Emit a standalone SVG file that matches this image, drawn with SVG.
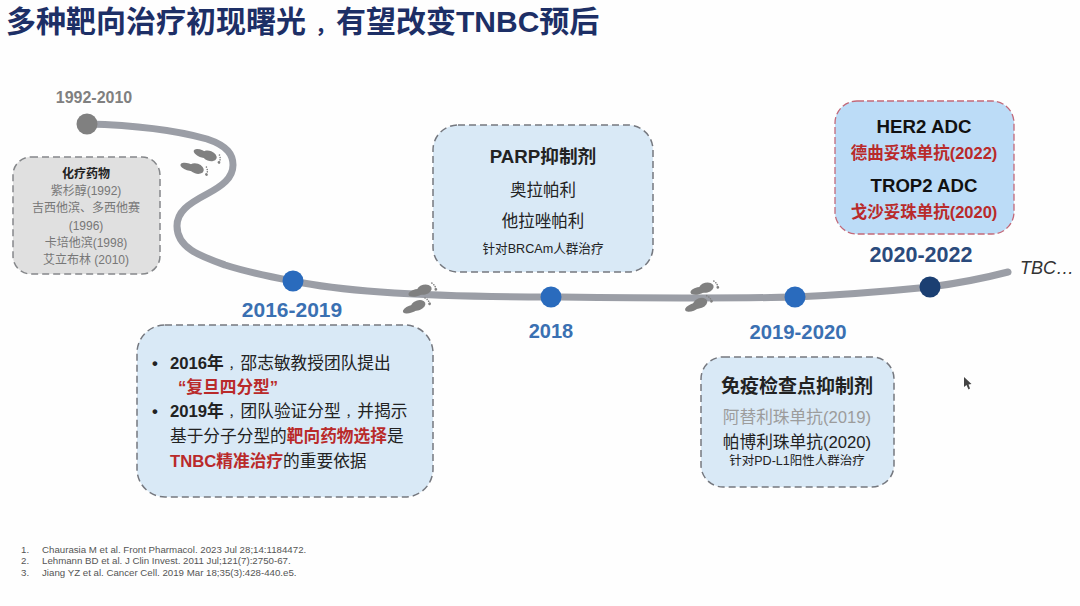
<svg xmlns="http://www.w3.org/2000/svg" width="1080" height="606" viewBox="0 0 1080 606">
<style>
text{font-family:"Liberation Sans","Noto Sans CJK SC",sans-serif;text-anchor:middle;fill:#222}
.b{font-weight:700}
.l{text-anchor:start}
.box{stroke:#75787f;stroke-width:1.5;stroke-dasharray:7 4;fill:#d9e9f6}
.yr{font-weight:700;fill:#3a70b2}
.red{fill:#b92a2a;font-weight:700}
.g{fill:#777;font-size:12px}
.ref{font-size:9.7px;fill:#555;text-anchor:start}
.dot{fill:#2a6bbd}
.foot{fill:#808080}
.cm{font-size:11.7px}
</style>
<defs>
<g id="foot"><ellipse cx="-5" cy="0.500" rx="8" ry="3.600"/><ellipse cx="3.500" cy="-0.500" rx="7.500" ry="5"/><circle cx="12.500" cy="-5" r="0.800"/><circle cx="14" cy="-3" r="0.800"/><circle cx="14.800" cy="-0.800" r="0.800"/><circle cx="14.800" cy="2" r="1.400"/></g>
</defs>
<rect width="1080" height="606" fill="#fefefe"/>
<text id="title" class="b l" x="6" y="32" font-size="30" style="fill:#1d2f66">多种靶向治疗初现曙光<tspan dx="9" font-size="21">，</tspan>有望改变TNBC预后</text>
<g id="connectors"><path d="M87 124C130 125 175 130 207 139C228 146 233 155 233 165C233 178 222 186 207 194C188 204 177 212 177 226C177 248 200 256 225 265C250 273 272 277 293 281C345 292 440 297 551 297C640 298 720 299 795 297C840 295 890 291 930 287C960 283 985 278 1008 272" fill="none" stroke="#9b9ea6" stroke-width="7" stroke-linecap="round"/></g>
<g id="footprints" class="foot">
<use href="#foot" transform="translate(206,155) rotate(22)"/>
<use href="#foot" transform="translate(193,168) rotate(18)"/>
<use href="#foot" transform="translate(421,291) rotate(-14)"/>
<use href="#foot" transform="translate(415,307) rotate(-20)"/>
<use href="#foot" transform="translate(703,289) rotate(-14)"/>
<use href="#foot" transform="translate(697,305) rotate(-22)"/>
</g>
<g id="node-1992">
<circle cx="87" cy="124" r="10.5" fill="#808080"/>
<text class="b" x="94" y="103" font-size="16" style="fill:#808080">1992-2010</text>
</g>
<g id="box-chemo">
<rect x="13" y="157" width="147" height="117" rx="18" fill="#e0e0e0" stroke="#85878a" stroke-width="1.5" stroke-dasharray="7 4"/>
<text class="b" x="86" y="178" font-size="12">化疗药物</text>
<text class="g" x="86" y="195">紫杉醇(1992)</text>
<text class="g" x="86" y="212">吉西他滨、多西他赛</text>
<text class="g" x="86" y="230">(1996)</text>
<text class="g" x="86" y="247">卡培他滨(1998)</text>
<text class="g" x="86" y="264">艾立布林 (2010)</text>
</g>
<g id="node-2016">
<circle class="dot" cx="293" cy="281" r="10.5"/>
<text class="yr" x="292" y="317" font-size="21" style="fill:#3a70b2">2016-2019</text>
</g>
<g id="box-2016">
<rect class="box" x="137" y="325" width="296" height="172" rx="28"/>
<g font-size="16.7">
<text class="l b" x="152" y="369">•</text>
<text class="l" x="170" y="369"><tspan class="b">2016年</tspan><tspan class="cm" dx="5">，</tspan>邵志敏教授团队提出</text>
<text class="l red" x="178" y="393">“复旦四分型”</text>
<text class="l b" x="152" y="417">•</text>
<text class="l" x="170" y="417"><tspan class="b">2019年</tspan><tspan class="cm" dx="5">，</tspan>团队验证分型<tspan class="cm" dx="5">，</tspan>并揭示</text>
<text class="l" x="170" y="442">基于分子分型的<tspan class="red">靶向药物选择</tspan>是</text>
<text class="l" x="170" y="467"><tspan class="red">TNBC精准治疗</tspan>的重要依据</text>
</g>
</g>
<g id="box-parp">
<rect class="box" x="433" y="125" width="220" height="147" rx="25"/>
<text class="b" x="543" y="163" font-size="18.7">PARP抑制剂</text>
<text x="543" y="196" font-size="16.5">奥拉帕利</text>
<text x="543" y="227" font-size="16.5">他拉唑帕利</text>
<text x="543" y="253" font-size="12.6">针对BRCAm人群治疗</text>
</g>
<g id="node-2018">
<circle class="dot" cx="551" cy="297" r="10.5"/>
<text class="yr" x="551" y="338" font-size="20" style="fill:#3a70b2">2018</text>
</g>
<g id="node-2019">
<circle class="dot" cx="795" cy="297" r="10.5"/>
<text class="yr" x="798" y="339" font-size="20.3" style="fill:#3a70b2">2019-2020</text>
</g>
<g id="box-immuno">
<rect class="box" x="701" y="357" width="193" height="130" rx="22"/>
<text class="b" x="797" y="393" font-size="19">免疫检查点抑制剂</text>
<text x="797" y="423" font-size="16.7" style="fill:#9c9c9c">阿替利珠单抗(2019)</text>
<text x="797" y="448" font-size="16.7">帕博利珠单抗(2020)</text>
<text x="797" y="465" font-size="12.5">针对PD-L1阳性人群治疗</text>
</g>
<g id="box-adc">
<rect x="835" y="101" width="179" height="133" rx="22" fill="#bcdcf7" stroke="#c2697a" stroke-width="1.3" stroke-dasharray="7 3"/>
<text class="b" x="924" y="133" font-size="18.7" style="fill:#111">HER2 ADC</text>
<text class="red" x="924" y="159" font-size="16.5" style="fill:#b92a2a">德曲妥珠单抗(2022)</text>
<text class="b" x="924" y="192" font-size="18.6" style="fill:#111">TROP2 ADC</text>
<text class="red" x="924" y="218" font-size="16.5" style="fill:#b92a2a">戈沙妥珠单抗(2020)</text>
</g>
<g id="node-2020">
<circle cx="930" cy="287" r="10.5" fill="#1b3f72"/>
<text class="b" x="921" y="262" font-size="21.5" style="fill:#2a4a7c">2020-2022</text>
</g>
<text id="tbc" class="l" x="1020" y="274" font-size="18" font-style="italic" style="fill:#333">TBC…</text>
<g id="references">
<text class="ref" x="21" y="553">1.</text><text class="ref" x="42" y="553">Chaurasia M et al. Front Pharmacol. 2023 Jul 28;14:1184472.</text>
<text class="ref" x="21" y="564">2.</text><text class="ref" x="42" y="564">Lehmann BD et al. J Clin Invest. 2011 Jul;121(7):2750-67.</text>
<text class="ref" x="21" y="576">3.</text><text class="ref" x="42" y="576">Jiang YZ et al. Cancer Cell. 2019 Mar 18;35(3):428-440.e5.</text>
</g>
<path id="cursor" d="M964 377L964 387L966.500 385L968.500 389.500L970 388.500L968.500 384.500L971.500 384Z" fill="#444"/>
</svg>
